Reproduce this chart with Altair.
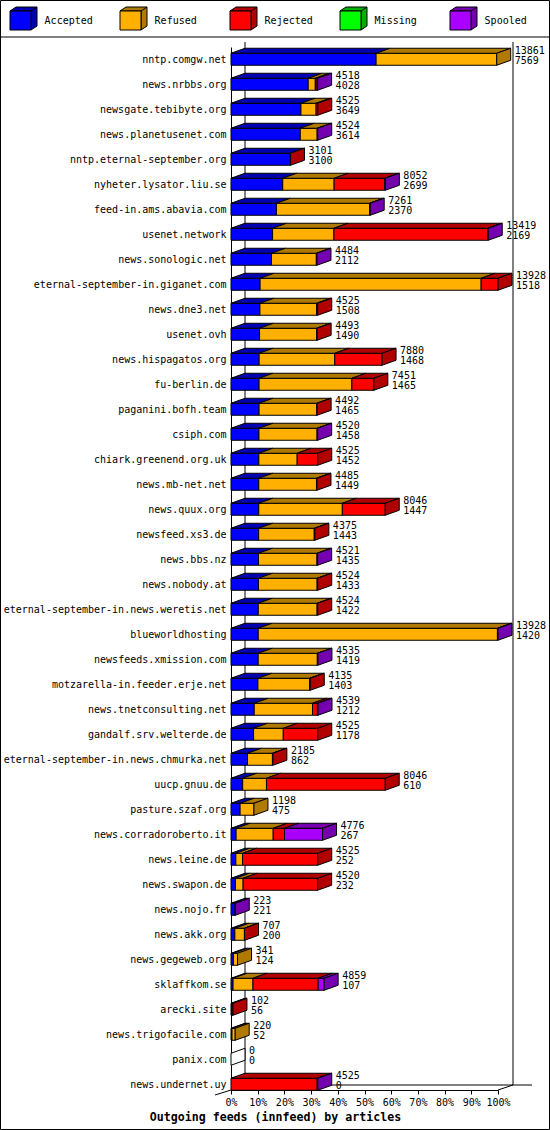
import json
import altair as alt
import pandas as pd

# ---------------- data ----------------
HOSTS = [
    "nntp.comgw.net", "news.nrbbs.org", "newsgate.tebibyte.org", "news.planetusenet.com",
    "nntp.eternal-september.org", "nyheter.lysator.liu.se", "feed-in.ams.abavia.com",
    "usenet.network", "news.sonologic.net", "eternal-september-in.giganet.com",
    "news.dne3.net", "usenet.ovh", "news.hispagatos.org", "fu-berlin.de",
    "paganini.bofh.team", "csiph.com", "chiark.greenend.org.uk", "news.mb-net.net",
    "news.quux.org", "newsfeed.xs3.de", "news.bbs.nz", "news.nobody.at",
    "eternal-september-in.news.weretis.net", "blueworldhosting", "newsfeeds.xmission.com",
    "motzarella-in.feeder.erje.net", "news.tnetconsulting.net", "gandalf.srv.welterde.de",
    "eternal-september-in.news.chmurka.net", "uucp.gnuu.de", "pasture.szaf.org",
    "news.corradoroberto.it", "news.leine.de", "news.swapon.de", "news.nojo.fr",
    "news.akk.org", "news.gegeweb.org", "sklaffkom.se", "arecki.site",
    "news.trigofacile.com", "panix.com", "news.undernet.uy",
]
TOTAL = [13861, 4518, 4525, 4524, 3101, 8052, 7261, 13419, 4484, 13928,
         4525, 4493, 7880, 7451, 4492, 4520, 4525, 4485, 8046, 4375,
         4521, 4524, 4524, 13928, 4535, 4135, 4539, 4525, 2185, 8046,
         1198, 4776, 4525, 4520, 223, 707, 341, 4859, 102, 220, 0, 4525]
ACCEPTED = [7569, 4028, 3649, 3614, 3100, 2699, 2370, 2169, 2112, 1518,
            1508, 1490, 1468, 1465, 1465, 1458, 1452, 1449, 1447, 1443,
            1435, 1433, 1422, 1420, 1419, 1403, 1212, 1178, 862, 610,
            475, 267, 252, 232, 221, 200, 124, 107, 56, 52, 0, 0]
REFUSED = [6292, 370, 790, 880, 0, 2680, 4860, 3200, 2340, 11530,
           2957, 2975, 3945, 4840, 3020, 3030, 2000, 3010, 4360, 2900,
           3050, 3060, 3070, 12478, 3085, 2700, 3040, 1550, 1300, 1240,
           723, 1935, 350, 400, 0, 500, 217, 1040, 0, 168, 0, 0]
REJECTED = [0, 90, 86, 0, 1, 2640, 0, 8020, 0, 880,
            60, 28, 2467, 1146, 7, 0, 1073, 26, 2239, 32,
            0, 31, 32, 0, 0, 32, 255, 1797, 23, 6196,
            0, 591, 3923, 3888, 0, 7, 0, 3400, 46, 0, 0, 4495]
MISSING = [0, 0, 0, 0, 0, 0, 0, 0, 0, 0,
           0, 0, 0, 0, 0, 0, 0, 0, 0, 0,
           0, 0, 0, 0, 0, 0, 0, 0, 0, 0,
           0, 0, 0, 0, 0, 0, 0, 0, 0, 0, 0, 0]
SPOOLED = [0, 30, 0, 30, 0, 33, 31, 30, 32, 0,
           0, 0, 0, 0, 0, 32, 0, 0, 0, 0,
           36, 0, 0, 30, 31, 0, 32, 0, 0, 0,
           0, 1983, 0, 0, 2, 0, 0, 312, 0, 0, 0, 30]

SERIES = ["Accepted", "Refused", "Rejected", "Missing", "Spooled"]
TITLE = "Outgoing feeds (innfeed) by articles"
TICK_PCTS = [0, 10, 20, 30, 40, 50, 60, 70, 80, 90, 100]

# ---------------- styles / layout ----------------
FRONT_COLORS = ["#0000ff", "#ffb000", "#ff0000", "#00ff00", "#aa00ff"]
DARK_COLORS = ["#0000b0", "#b07900", "#b00000", "#00b000", "#7500b0"]
FONT = "DejaVu Sans Mono"

W, H = 267, 1043
PAD = {"left": 231, "top": 47, "right": 52, "bottom": 40}
Y_MIN, Y_MAX = -0.49, 41.23
ROW_PX = H / (Y_MAX - Y_MIN)
XMAX = max(TOTAL)
FACE_HALF = 6 / ROW_PX
DEPTH_Y = 5 / ROW_PX
DEPTH_X = 14 * XMAX / W

values = dict(zip(SERIES, [ACCEPTED, REFUSED, REJECTED, MISSING, SPOOLED]))

front_rows, top_rows, side_rows = [], [], []
for i, host in enumerate(HOSTS):
    cum = 0
    last = None
    for s in SERIES:
        v = values[s][i]
        if v <= 0:
            continue
        start, end = cum, cum + v
        cum = end
        last = s
        front_rows.append(dict(series=s, x0=start, x1=end,
                               ya=i - FACE_HALF, yb=i + FACE_HALF))
        fid = f"{i}-{s}"
        top_rows.append(dict(face=fid, fill=s + " dark", y=i - FACE_HALF,
                             xa=start, xb=end))
        top_rows.append(dict(face=fid, fill=s + " dark", y=i - FACE_HALF - DEPTH_Y,
                             xa=start + DEPTH_X, xb=end + DEPTH_X))
    fill = (last + " dark") if last else "empty"
    side_rows.append(dict(face=str(i), fill=fill, x=cum,
                          ya=i - FACE_HALF, yb=i + FACE_HALF))
    side_rows.append(dict(face=str(i), fill=fill, x=cum + DEPTH_X,
                          ya=i - FACE_HALF - DEPTH_Y, yb=i + FACE_HALF - DEPTH_Y))

front_df = pd.DataFrame(front_rows)
top_df = pd.DataFrame(top_rows)
side_df = pd.DataFrame(side_rows)
label_df = pd.DataFrame({"row": list(range(len(HOSTS))), "total": TOTAL, "accepted": ACCEPTED})

fill_scale = alt.Scale(domain=SERIES + [s + " dark" for s in SERIES] + ["empty"],
                       range=FRONT_COLORS + DARK_COLORS + ["white"])
xs = alt.Scale(domain=[0, XMAX], nice=False, zero=False)
ys = alt.Scale(domain=[Y_MIN, Y_MAX], reverse=True, nice=False, zero=False)

x_axis = alt.Axis(
    values=[XMAX * p / 100 for p in TICK_PCTS],
    labelExpr=f"round(datum.value / {XMAX} * 100) + '%'",
    labelFont=FONT, labelFontSize=10, labelColor="black", labelPadding=3,
    labelOverlap=False, labelFlush=False, labelBound=False,
    tickSize=4, tickColor="black", domainColor="black", grid=False,
    title=TITLE, titleFont=FONT, titleFontSize=11.6, titleFontWeight="bold",
    titleColor="black", titleX=275 - PAD["left"], titleY=27,
    titleAlign="center", titleBaseline="middle",
)
y_axis = alt.Axis(
    values=list(range(len(HOSTS))),
    labelExpr=json.dumps(HOSTS) + "[datum.value]",
    labelFont=FONT, labelFontSize=10, labelColor="black", labelPadding=5,
    labelLimit=400, labelOverlap=False, ticks=False, domainColor="black",
    grid=False, title=None,
)

one = pd.DataFrame({"_": [0]})


def seg(xa, ya, xb, yb):
    return alt.Chart(one).mark_rule(color="black", strokeWidth=1).encode(
        x=alt.value(xa - PAD["left"]), y=alt.value(ya - PAD["top"]),
        x2=alt.value(xb - PAD["left"]), y2=alt.value(yb - PAD["top"]))


frame = [
    seg(245, 42, 245, 1085),     # back wall left
    seg(513, 42, 513, 1085),     # back wall right
    seg(245, 1085, 532, 1085),   # floor back
    seg(498, 1090, 513, 1085),   # floor right slant
    seg(215, 1095, 231, 1090),   # floor left slant
    seg(0, 37, 550, 37),         # legend separator
]
border = alt.Chart(one).mark_rect(fill="transparent", stroke="black", strokeWidth=1).encode(
    x=alt.value(0.5 - PAD["left"]), x2=alt.value(549.5 - PAD["left"]),
    y=alt.value(0.5 - PAD["top"]), y2=alt.value(1129.5 - PAD["top"]))

fronts = alt.Chart(front_df).mark_rect(stroke="black", strokeWidth=1).encode(
    x=alt.X("x0:Q", scale=xs, axis=x_axis), x2="x1:Q",
    y=alt.Y("ya:Q", scale=ys, axis=y_axis), y2="yb:Q",
    fill=alt.Fill("series:N", scale=fill_scale, legend=None))

tops = alt.Chart(top_df).mark_area(orient="horizontal", stroke="black", strokeWidth=1).encode(
    y=alt.Y("y:Q", scale=ys, axis=y_axis),
    x=alt.X("xa:Q", scale=xs, axis=x_axis, stack=None), x2="xb:Q",
    detail="face:N",
    fill=alt.Fill("fill:N", scale=fill_scale, legend=None))

sides = alt.Chart(side_df).mark_area(orient="vertical", stroke="black", strokeWidth=1).encode(
    x=alt.X("x:Q", scale=xs, axis=x_axis),
    y=alt.Y("ya:Q", scale=ys, axis=y_axis, stack=None), y2="yb:Q",
    detail="face:N",
    fill=alt.Fill("fill:N", scale=fill_scale, legend=None))

lab_top = alt.Chart(label_df).mark_text(align="left", baseline="middle", dx=18, dy=-8.5,
                                        font=FONT, fontSize=10, color="black").encode(
    x=alt.X("total:Q", scale=xs, axis=x_axis), y=alt.Y("row:Q", scale=ys, axis=y_axis),
    text=alt.Text("total:Q", format="d"))
lab_bot = alt.Chart(label_df).mark_text(align="left", baseline="middle", dx=18, dy=2,
                                        font=FONT, fontSize=10, color="black").encode(
    x=alt.X("total:Q", scale=xs, axis=x_axis), y=alt.Y("row:Q", scale=ys, axis=y_axis),
    text=alt.Text("accepted:Q", format="d"))

main = alt.layer(border, *frame, fronts, tops, sides, lab_top, lab_bot)

# ---------------- legend ----------------
LEG_X0, LEG_STEP, LEG_TOP = 10, 110, 11
leg_df = pd.DataFrame({"name": SERIES, "dark": [s + " dark" for s in SERIES]})
legend_x = alt.X("name:N", axis=None,
                 scale=alt.Scale(type="point", domain=SERIES, padding=0,
                                 range=[LEG_X0 - PAD["left"],
                                        LEG_X0 + LEG_STEP * (len(SERIES) - 1) - PAD["left"]]))
DARK_PATH = "M0,0 L6,-4 L27,-4 L27,15 L21,19 L21,0 Z M21,0 L27,-4"
FRONT_PATH = "M0,0 L21,0 L21,19 L0,19 Z"
leg_dark = alt.Chart(leg_df).mark_point(shape=DARK_PATH, size=4, filled=True, opacity=1,
                                        stroke="black", strokeWidth=1).encode(
    x=legend_x, y=alt.value(LEG_TOP - PAD["top"]),
    fill=alt.Fill("dark:N", scale=fill_scale, legend=None))
leg_front = alt.Chart(leg_df).mark_point(shape=FRONT_PATH, size=4, filled=True, opacity=1,
                                         stroke="black", strokeWidth=1).encode(
    x=legend_x, y=alt.value(LEG_TOP - PAD["top"]),
    fill=alt.Fill("name:N", scale=fill_scale, legend=None))
leg_text = alt.Chart(leg_df).mark_text(align="left", baseline="middle", dx=34.6,
                                       font=FONT, fontSize=10, color="black").encode(
    x=legend_x, y=alt.value(LEG_TOP + 10 - PAD["top"]), text="name:N")
legend = alt.layer(leg_dark, leg_front, leg_text)

chart = alt.layer(main, legend).resolve_scale(x="independent").properties(
    width=W, height=H, padding=PAD,
    autosize=alt.AutoSizeParams(type="none"), background="white",
).configure_view(stroke=None)

chart.save("out.html", embed_options={"renderer": "svg", "actions": False})
